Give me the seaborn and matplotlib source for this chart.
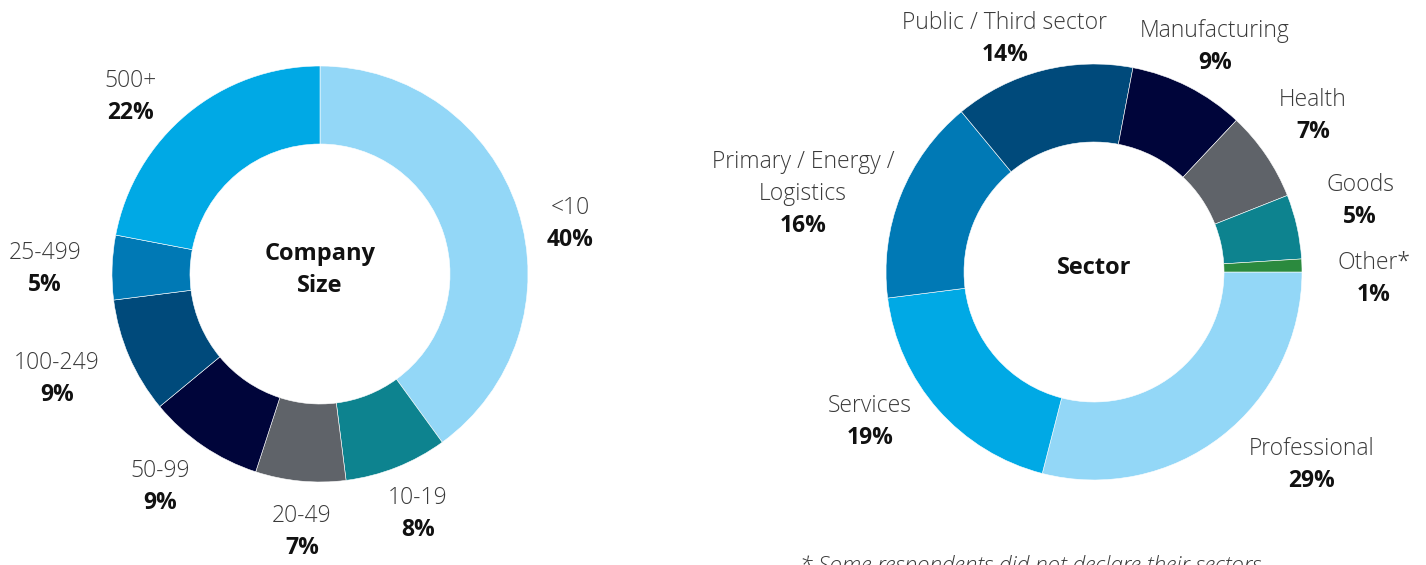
import matplotlib
matplotlib.use("Agg")
import matplotlib.pyplot as plt
import seaborn as sns

# --- Data ---
size_labels = ["<10", "10-19", "20-49", "50-99", "100-249", "25-499", "500+"]
size_values = [40, 8, 7, 9, 9, 5, 22]

sector_labels = ["Professional", "Services", "Primary / Energy /\nLogistics",
                 "Public / Third sector", "Manufacturing", "Health", "Goods", "Other*"]
sector_values = [29, 19, 16, 14, 9, 7, 5, 1]

# --- Style ---
size_colors = ["#93d7f7", "#0d838f", "#5f6369", "#00053a", "#004a7b", "#0079b5", "#00a9e5"]
sector_colors = ["#93d7f7", "#00a9e5", "#0079b5", "#004a7b", "#00053a", "#5f6369", "#0d838f", "#2b8a3e"]

# label anchors (baseline of first line), in units of the donut radius
size_label_pos = [(1.202, 0.288), (0.471, -1.106), (-0.087, -1.192), (-0.769, -0.976),
                  (-1.264, -0.457), (-1.322, 0.072), (-0.913, 0.899)]
sector_label_pos = [(1.048, -0.880), (-1.077, -0.673), (-1.399, 0.500), (-0.428, 1.168),
                    (0.582, 1.130), (1.053, 0.798), (1.279, 0.389), (1.346, 0.014)]

sns.set_theme(style="white")
plt.rcParams["font.family"] = ["Open Sans", "DejaVu Sans"]

W, H = 1426, 565
fig = plt.figure(figsize=(W / 100, H / 100), dpi=100)

R_PX = 208
LINE_GAP = 23  # points between label lines
FS = 16.5


def donut(center, values, colors, labels, label_pos, title, startangle):
    cx, cy = center
    ax = fig.add_axes([(cx - R_PX) / W, (H - cy - R_PX) / H, 2 * R_PX / W, 2 * R_PX / H])
    ax.pie(values, colors=colors, startangle=startangle, counterclock=False,
           wedgeprops=dict(width=0.375, edgecolor="white", linewidth=0.4))
    ax.set_xlim(-1, 1)
    ax.set_ylim(-1, 1)
    ax.set_aspect("equal")
    ax.axis("off")
    ax.text(0, 0.018, title, ha="center", va="center", fontsize=FS + 0.5,
            fontweight="bold", color="#111111", linespacing=1.45)
    for lab, val, (x, y) in zip(labels, values, label_pos):
        lines = lab.split("\n")
        for i, line in enumerate(lines):
            ax.annotate(line, (x, y), xytext=(0, -i * LINE_GAP), textcoords="offset points",
                        ha="center", va="baseline", fontsize=FS, fontweight="light",
                        color="#3a3a3a", annotation_clip=False)
        ax.annotate(f"{val}%", (x, y), xytext=(0, -len(lines) * LINE_GAP),
                    textcoords="offset points", ha="center", va="baseline",
                    fontsize=FS, fontweight="bold", color="#111111", annotation_clip=False)
    return ax


donut((320, 274), size_values, size_colors, size_labels, size_label_pos,
      "Company\nSize", 90)
donut((1094, 272), sector_values, sector_colors, sector_labels, sector_label_pos,
      "Sector", 0)

fig.text(800 / W, (H - 572) / H, "* Some respondents did not declare their sectors",
         ha="left", va="baseline", fontsize=16.2, fontstyle="italic", fontweight="light",
         color="#3a3a3a")

fig.savefig("out.png", dpi=100)
